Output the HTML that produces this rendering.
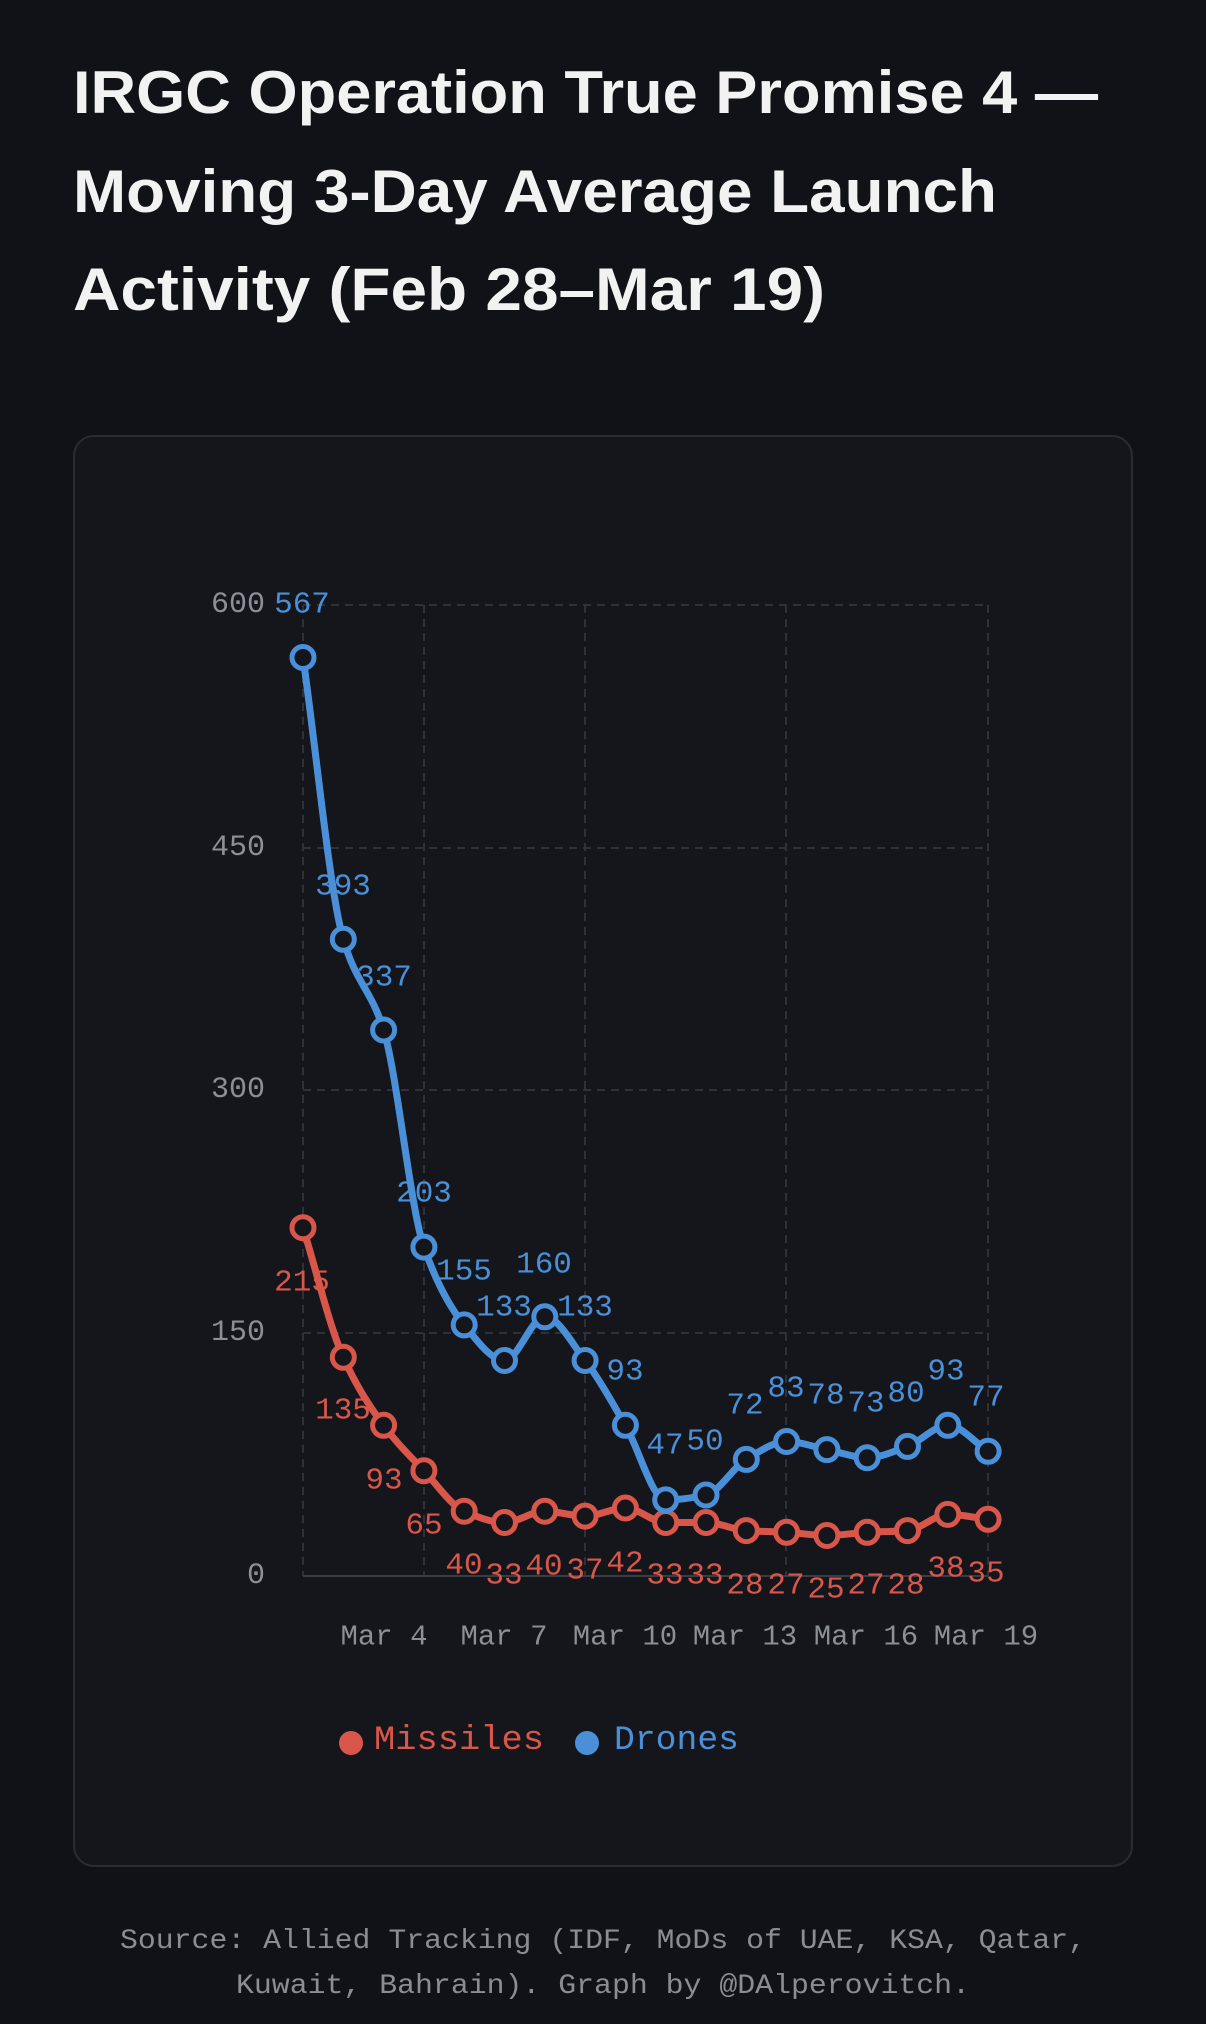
<!DOCTYPE html>
<html><head><meta charset="utf-8"><style>
html,body{margin:0;padding:0;background:#111217;}
svg{display:block}
</style></head><body>
<svg id="s" width="1206" height="2024" xmlns="http://www.w3.org/2000/svg">
<rect width="1206" height="2024" fill="#111217"/>
<g font-family="Liberation Sans, sans-serif" font-weight="bold" font-size="60" fill="#f2f2f2">
<text x="73" y="113" textLength="1025" lengthAdjust="spacingAndGlyphs">IRGC Operation True Promise 4 —</text>
<text x="73" y="212" textLength="924" lengthAdjust="spacingAndGlyphs">Moving 3-Day Average Launch</text>
<text x="73" y="310" textLength="752" lengthAdjust="spacingAndGlyphs">Activity (Feb 28–Mar 19)</text>
</g>
<rect x="74" y="436" width="1058" height="1430" rx="20" fill="#15161b" stroke="#2a2c32" stroke-width="2"/>
<g stroke="#2e3138" stroke-width="2" stroke-dasharray="8,6" fill="none">
<line x1="303" y1="605" x2="988" y2="605"/>
<line x1="303" y1="848" x2="988" y2="848"/>
<line x1="303" y1="1090" x2="988" y2="1090"/>
<line x1="303" y1="1333" x2="988" y2="1333"/>
<line x1="303" y1="605" x2="303" y2="1576"/>
<line x1="424" y1="605" x2="424" y2="1576"/>
<line x1="585" y1="605" x2="585" y2="1576"/>
<line x1="786" y1="605" x2="786" y2="1576"/>
<line x1="988" y1="605" x2="988" y2="1576"/>
</g>
<line x1="303" y1="1576" x2="988" y2="1576" stroke="#3a3d44" stroke-width="2"/>
<g font-family="Liberation Mono, monospace" font-size="30" fill="#8b8f96" text-anchor="end" dominant-baseline="central">
<text x="265" y="605">600</text><text x="265" y="848">450</text><text x="265" y="1090">300</text><text x="265" y="1333">150</text><text x="265" y="1576">0</text>
</g>
<g font-family="Liberation Mono, monospace" font-size="29" fill="#8b8f96" text-anchor="middle" dominant-baseline="central">
<text x="384" y="1637">Mar 4</text><text x="504" y="1637">Mar 7</text><text x="625" y="1637">Mar 10</text><text x="745" y="1637">Mar 13</text><text x="866" y="1637">Mar 16</text><text x="986" y="1637">Mar 19</text>
</g>
<polyline id="pr" fill="none" stroke="#d9574a" stroke-width="7" stroke-linejoin="round" stroke-linecap="round" points="303,1227.7 343.3,1357.3 383.6,1425.3 423.9,1470.7 464.2,1511.2 504.5,1522.5 544.8,1511.2 585.1,1516.1 625.4,1508 665.7,1522.5 706,1522.5 746.3,1530.6 786.6,1532.3 826.9,1535.5 867.2,1532.3 907.5,1530.6 947.8,1514.4 988.1,1519.3"/>
<polyline id="pb" fill="none" stroke="#4a90d9" stroke-width="7" stroke-linejoin="round" stroke-linecap="round" points="303,657.5 343.3,939.3 383.6,1030 423.9,1247.1 464.2,1324.9 504.5,1360.5 544.8,1316.8 585.1,1360.5 625.4,1425.3 665.7,1499.9 706,1495 746.3,1459.4 786.6,1441.5 826.9,1449.6 867.2,1457.7 907.5,1446.4 947.8,1425.3 988.1,1451.3"/>
<g fill="#15161b" stroke="#d9574a" stroke-width="5">
<circle cx="303" cy="1227.7" r="11"/><circle cx="343.3" cy="1357.3" r="11"/><circle cx="383.6" cy="1425.3" r="11"/><circle cx="423.9" cy="1470.7" r="11"/><circle cx="464.2" cy="1511.2" r="11"/><circle cx="504.5" cy="1522.5" r="11"/><circle cx="544.8" cy="1511.2" r="11"/><circle cx="585.1" cy="1516.1" r="11"/><circle cx="625.4" cy="1508" r="11"/><circle cx="665.7" cy="1522.5" r="11"/><circle cx="706" cy="1522.5" r="11"/><circle cx="746.3" cy="1530.6" r="11"/><circle cx="786.6" cy="1532.3" r="11"/><circle cx="826.9" cy="1535.5" r="11"/><circle cx="867.2" cy="1532.3" r="11"/><circle cx="907.5" cy="1530.6" r="11"/><circle cx="947.8" cy="1514.4" r="11"/><circle cx="988.1" cy="1519.3" r="11"/>
</g>
<g fill="#15161b" stroke="#4a90d9" stroke-width="5">
<circle cx="303" cy="657.5" r="11"/><circle cx="343.3" cy="939.3" r="11"/><circle cx="383.6" cy="1030" r="11"/><circle cx="423.9" cy="1247.1" r="11"/><circle cx="464.2" cy="1324.9" r="11"/><circle cx="504.5" cy="1360.5" r="11"/><circle cx="544.8" cy="1316.8" r="11"/><circle cx="585.1" cy="1360.5" r="11"/><circle cx="625.4" cy="1425.3" r="11"/><circle cx="665.7" cy="1499.9" r="11"/><circle cx="706" cy="1495" r="11"/><circle cx="746.3" cy="1459.4" r="11"/><circle cx="786.6" cy="1441.5" r="11"/><circle cx="826.9" cy="1449.6" r="11"/><circle cx="867.2" cy="1457.7" r="11"/><circle cx="907.5" cy="1446.4" r="11"/><circle cx="947.8" cy="1425.3" r="11"/><circle cx="988.1" cy="1451.3" r="11"/>
</g>
<g font-family="Liberation Mono, monospace" font-size="31" fill="#4a90d9" text-anchor="middle" dominant-baseline="central">
<text x="302" y="605">567</text><text x="343" y="887">393</text><text x="384" y="978">337</text><text x="424" y="1194">203</text><text x="464" y="1272">155</text><text x="504" y="1308">133</text><text x="544" y="1265">160</text><text x="585" y="1308">133</text><text x="625" y="1372">93</text><text x="665" y="1446">47</text><text x="705" y="1442">50</text><text x="745" y="1406">72</text><text x="786" y="1389">83</text><text x="826" y="1396">78</text><text x="866" y="1404">73</text><text x="906" y="1394">80</text><text x="946" y="1372">93</text><text x="986" y="1398">77</text>
</g>
<g font-family="Liberation Mono, monospace" font-size="31" fill="#d9574a" text-anchor="middle" dominant-baseline="central">
<text x="302" y="1283">215</text><text x="343" y="1411">135</text><text x="384" y="1481">93</text><text x="424" y="1526">65</text><text x="464" y="1566">40</text><text x="504" y="1576">33</text><text x="544" y="1567">40</text><text x="585" y="1571">37</text><text x="625" y="1564">42</text><text x="665" y="1576">33</text><text x="705" y="1576">33</text><text x="745" y="1586">28</text><text x="786" y="1586">27</text><text x="826" y="1590">25</text><text x="866" y="1586">27</text><text x="906" y="1586">28</text><text x="946" y="1569">38</text><text x="986" y="1574">35</text>
</g>
<circle cx="351" cy="1743" r="12" fill="#d9574a"/>
<circle cx="587" cy="1743" r="12" fill="#4a90d9"/>
<g font-family="Liberation Mono, monospace" font-size="34" dominant-baseline="central">
<text x="374" y="1741" fill="#d9574a" textLength="170" lengthAdjust="spacingAndGlyphs">Missiles</text>
<text x="614" y="1741" fill="#4a90d9" textLength="125" lengthAdjust="spacingAndGlyphs">Drones</text>
</g>
<g font-family="Liberation Mono, monospace" font-size="28" fill="#8a8d92" text-anchor="middle">
<text x="603" y="1948" textLength="966" lengthAdjust="spacingAndGlyphs">Source: Allied Tracking (IDF, MoDs of UAE, KSA, Qatar,</text>
<text x="603" y="1993" textLength="734" lengthAdjust="spacingAndGlyphs">Kuwait, Bahrain). Graph by @DAlperovitch.</text>
</g>
</svg>
<script>
(function(){
function mono(pts){
  var n=pts.length,d=[],m=[];
  for(var i=0;i<n-1;i++){d.push((pts[i+1][1]-pts[i][1])/(pts[i+1][0]-pts[i][0]));}
  m[0]=d[0];m[n-1]=d[n-2];
  for(var i=1;i<n-1;i++){m[i]=(d[i-1]*d[i]<=0)?0:(2/(1/d[i-1]+1/d[i]));}
  var s="M"+pts[0][0]+","+pts[0][1];
  for(var i=0;i<n-1;i++){var h=(pts[i+1][0]-pts[i][0])/3;
    s+=" C"+(pts[i][0]+h)+","+(pts[i][1]+m[i]*h)+" "+(pts[i+1][0]-h)+","+(pts[i+1][1]-m[i+1]*h)+" "+pts[i+1][0]+","+pts[i+1][1];}
  return s;
}
["pr","pb"].forEach(function(id){
  var pl=document.getElementById(id);
  var pts=pl.getAttribute("points").trim().split(/\s+/).map(function(p){return p.split(",").map(Number);});
  var p=document.createElementNS("http://www.w3.org/2000/svg","path");
  p.setAttribute("d",mono(pts));
  ["fill","stroke","stroke-width","stroke-linejoin","stroke-linecap"].forEach(function(a){p.setAttribute(a,pl.getAttribute(a));});
  pl.parentNode.replaceChild(p,pl);
});
})();
</script>
</body></html>
